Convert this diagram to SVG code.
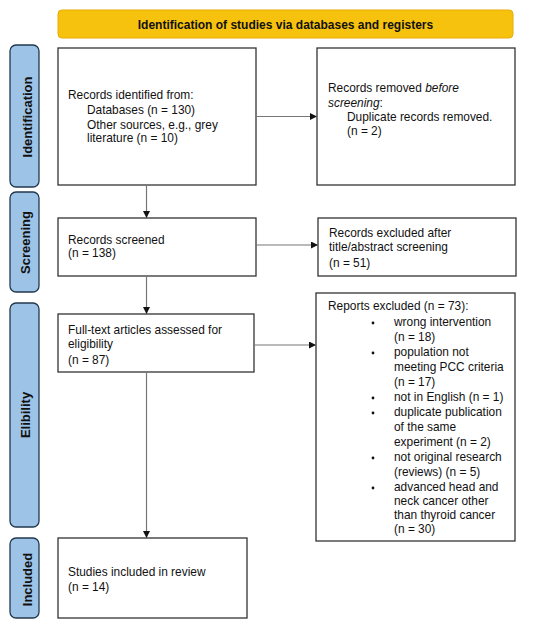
<svg xmlns="http://www.w3.org/2000/svg" width="550" height="629" viewBox="0 0 550 629">
<defs>
<marker id="ah" viewBox="0 0 10 10" refX="10" refY="5" markerWidth="7" markerHeight="7" markerUnits="userSpaceOnUse" orient="auto">
<path d="M0,0 L10,5 L0,10 z" fill="#111"/>
</marker>
<style>
.box{fill:#fff;stroke:#333;stroke-width:1.3}
.side{fill:#9dc3e6;stroke:#22384f;stroke-width:1.3}
.hdr{fill:#f7c20e;stroke:#e6ad00;stroke-width:1}
text{font-family:"Liberation Sans",Arial,sans-serif;font-size:11.9px;fill:#111}
.b{font-weight:bold;font-size:12px}
.s{font-weight:bold;font-size:13px}
.con{stroke:#777;stroke-width:1.2;fill:none;marker-end:url(#ah)}
</style>
</defs>
<rect width="550" height="629" fill="#fff"/>
<g id="header">
<rect class="hdr" x="58" y="10" width="455" height="28" rx="4"/>
<text class="b" x="285.5" y="28.5" text-anchor="middle">Identification of studies via databases and registers</text>
</g>
<g id="lbl-identification">
<rect class="side" x="10" y="45" width="29" height="142" rx="6"/>
<text class="s" transform="translate(31.5,117) rotate(-90)" text-anchor="middle">Identification</text>
</g>
<g id="lbl-screening">
<rect class="side" x="10" y="192" width="29" height="100" rx="6"/>
<text class="s" transform="translate(29.5,242.5) rotate(-90)" text-anchor="middle">Screening</text>
</g>
<g id="lbl-eligibility">
<rect class="side" x="10" y="303" width="29" height="224" rx="6"/>
<text class="s" transform="translate(30,415) rotate(-90)" text-anchor="middle">Elibility</text>
</g>
<g id="lbl-included">
<rect class="side" x="10" y="538" width="29" height="80" rx="6"/>
<text class="s" transform="translate(31.5,579.5) rotate(-90)" text-anchor="middle">Included</text>
</g>
<g id="records-identified">
<rect class="box" x="58" y="48" width="198" height="137"/>
<text x="68" y="99">Records identified from:</text>
<text x="87" y="114">Databases (n = 130)</text>
<text x="87" y="129">Other sources, e.g., grey</text>
<text x="87" y="142">literature (n = 10)</text>
</g>
<g id="records-removed">
<rect class="box" x="317" y="48" width="198" height="137"/>
<text x="328" y="92">Records removed <tspan font-style="italic">before</tspan></text>
<text x="328" y="107"><tspan font-style="italic">screening</tspan>:</text>
<text x="347" y="121">Duplicate records removed.</text>
<text x="347" y="135">(n = 2)</text>
</g>
<g id="records-screened">
<rect class="box" x="58" y="218" width="198" height="58"/>
<text x="68" y="244">Records screened</text>
<text x="68" y="257">(n = 138)</text>
</g>
<g id="records-excluded">
<rect class="box" x="318" y="218" width="198" height="58"/>
<text x="329" y="237">Records excluded after</text>
<text x="329" y="251">title/abstract screening</text>
<text x="329" y="267">(n = 51)</text>
</g>
<g id="fulltext">
<rect class="box" x="58" y="314" width="196" height="58"/>
<text x="68" y="334">Full-text articles assessed for</text>
<text x="68" y="348">eligibility</text>
<text x="68" y="364">(n = 87)</text>
</g>
<g id="reports-excluded">
<rect class="box" x="316" y="293" width="199" height="248"/>
<text x="328" y="310">Reports excluded (n = 73):</text>
<g fill="#111">
<circle cx="373" cy="323" r="1.4"/>
<circle cx="373" cy="353" r="1.4"/>
<circle cx="373" cy="398" r="1.4"/>
<circle cx="373" cy="413" r="1.4"/>
<circle cx="373" cy="458" r="1.4"/>
<circle cx="373" cy="488" r="1.4"/>
</g>
<text x="394" y="326">wrong intervention</text>
<text x="394" y="341">(n = 18)</text>
<text x="394" y="356">population not</text>
<text x="394" y="371">meeting PCC criteria</text>
<text x="394" y="386">(n = 17)</text>
<text x="394" y="401">not in English (n = 1)</text>
<text x="394" y="416">duplicate publication</text>
<text x="394" y="431">of the same</text>
<text x="394" y="446">experiment (n = 2)</text>
<text x="394" y="461">not original research</text>
<text x="394" y="476">(reviews) (n = 5)</text>
<text x="394" y="491">advanced head and</text>
<text x="394" y="505">neck cancer other</text>
<text x="394" y="519">than thyroid cancer</text>
<text x="394" y="533">(n = 30)</text>
</g>
<g id="studies-included">
<rect class="box" x="58" y="538" width="189" height="80"/>
<text x="68" y="576">Studies included in review</text>
<text x="68" y="591">(n = 14)</text>
</g>
<g id="connectors">
<path class="con" d="M256,116.5 H317"/>
<path class="con" d="M146.5,185 V218"/>
<path class="con" d="M256,245 H318"/>
<path class="con" d="M146.5,276 V314"/>
<path class="con" d="M254,345 H316"/>
<path class="con" d="M146.5,372 V538"/>
</g>
</svg>
